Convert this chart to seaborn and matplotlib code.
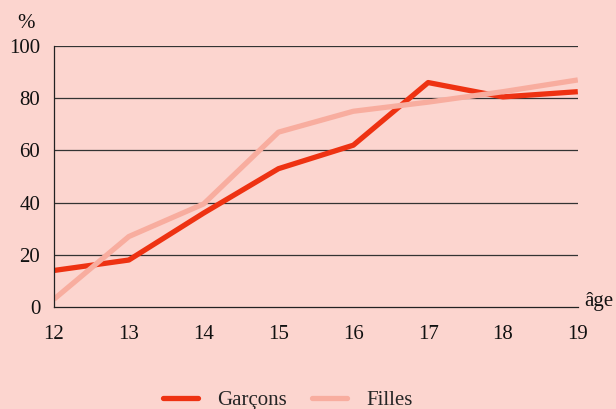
import matplotlib
matplotlib.use("Agg")
import matplotlib.pyplot as plt
from matplotlib.lines import Line2D
import seaborn as sns
import pandas as pd

# -------------------- DONNEES --------------------
ages = [12, 13, 14, 15, 16, 17, 18, 19]
garcons = [14, 18, 36, 53, 62, 86, 80.5, 82.5]
filles = [3, 27, 39.5, 67, 75, 78.5, 82.5, 87]

df = pd.DataFrame({"age": ages * 2,
                   "valeur": garcons + filles,
                   "groupe": ["Garçons"] * len(ages) + ["Filles"] * len(ages)})

bg = "#fcd5cf"
c_g = "#ee3212"
c_f = "#f8ad9f"
sns.set_theme(style="white")
plt.rcParams["font.family"] = ["Liberation Serif", "DejaVu Serif"]

fig = plt.figure(figsize=(6.16, 4.09), dpi=100, facecolor=bg)
ax = fig.add_axes([0.0877, 0.2494, 0.8503, 0.6381])
ax.set_facecolor(bg)

sns.lineplot(data=df, x="age", y="valeur", hue="groupe", ax=ax,
             palette={"Garçons": c_g, "Filles": c_f},
             linewidth=3.8, legend=False, solid_capstyle="butt")

ax.set_xlim(12, 19)
ax.set_ylim(0, 100)
ax.set_xticks(ages)
ax.set_yticks(range(0, 101, 20))
for y in range(20, 101, 20):
    ax.axhline(y, color="#333333", linewidth=0.9, zorder=0)
ax.tick_params(axis="x", length=0, pad=13, labelsize=15, colors="#111111")
ax.tick_params(axis="y", length=0, pad=10, labelsize=15, colors="#111111")
ax.set_xlabel("")
ax.set_ylabel("")
for s in ["top", "right"]:
    ax.spines[s].set_visible(False)
for s in ["left", "bottom"]:
    ax.spines[s].set_color("#222222")
    ax.spines[s].set_linewidth(0.9)

ax.text(-0.07, 1.07, "%", transform=ax.transAxes, fontsize=15, color="#111111")
ax.text(1.012, 0.02, "âge", transform=ax.transAxes, fontsize=15, color="#111111",
        va="center", ha="left")

# legende
handles = [Line2D([0], [0], color=c_g, lw=3.8),
           Line2D([0], [0], color=c_f, lw=3.8)]
fig.legend(handles, ["Garçons", "Filles"], loc="lower center", ncol=2,
           bbox_to_anchor=(0.467, -0.048), frameon=False, fontsize=15,
           handlelength=1.7, handletextpad=0.9, columnspacing=1.2)

fig.savefig("out.png", dpi=100, facecolor=bg)
